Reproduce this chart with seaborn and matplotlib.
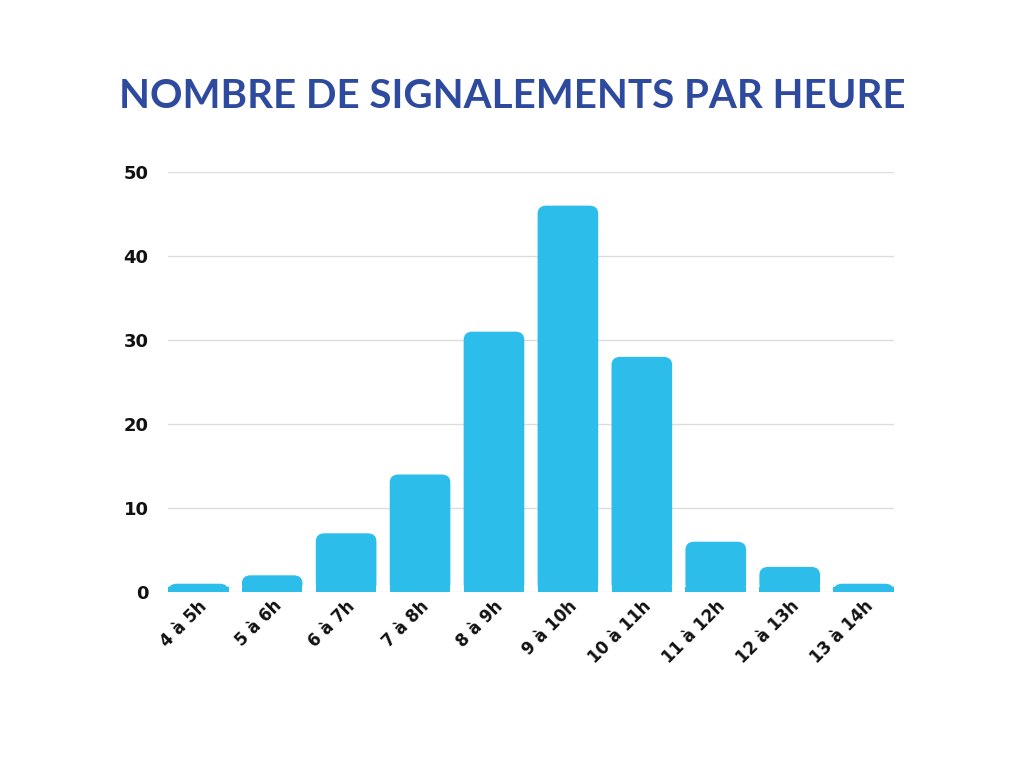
import matplotlib
matplotlib.use("Agg")
import matplotlib.pyplot as plt
import seaborn as sns
import pandas as pd
from matplotlib.patches import FancyBboxPatch

categories = ["4 à 5h", "5 à 6h", "6 à 7h", "7 à 8h", "8 à 9h",
              "9 à 10h", "10 à 11h", "11 à 12h", "12 à 13h", "13 à 14h"]
counts = [1, 2, 7, 14, 31, 46, 28, 6, 3, 1]
yticks = [0, 10, 20, 30, 40, 50]

df = pd.DataFrame({"heure": categories, "n": counts})

fig = plt.figure(figsize=(10.24, 7.68), dpi=100)
ax = fig.add_axes([0.164, 0.229, 0.709, 0.547])

sns.barplot(data=df, x="heure", y="n", color="#2DBDEA", width=0.82,
            saturation=1, ax=ax, zorder=3)

# replace bars with rounded-top versions
for p in list(ax.patches):
    x, y = p.get_x(), p.get_y()
    w, h = p.get_width(), p.get_height()
    p.set_visible(False)
    r = min(1.0, h / 2)
    fb = FancyBboxPatch((x, y), w, h, boxstyle="round,pad=0,rounding_size=0.12",
                        mutation_aspect=8, facecolor="#2DBDEA", edgecolor="none", zorder=3)
    ax.add_patch(fb)
    # square off the bottom
    ax.add_patch(plt.Rectangle((x, y), w, min(h, 0.6), facecolor="#2DBDEA",
                               edgecolor="none", zorder=3))

ax.set_xlim(-0.41, 9.41)
ax.set_ylim(0, 50)
ax.set_yticks(yticks)
ax.grid(axis="y", color="#dddddd", linewidth=1, zorder=0)
for s in ax.spines.values():
    s.set_visible(False)
ax.tick_params(length=0)
ax.set_xlabel("")
ax.set_ylabel("")
plt.setp(ax.get_yticklabels(), fontsize=13, fontweight="bold", color="#111111")
ax.tick_params(axis="y", pad=14)
plt.setp(ax.get_xticklabels(), fontsize=12, fontweight="bold", color="#111111",
         rotation=45, ha="right", rotation_mode="anchor")

fig.text(0.5, 0.875, "NOMBRE DE SIGNALEMENTS PAR HEURE", ha="center", va="center",
         fontsize=29, fontweight="bold", color="#2E4A9E", family="Lato")

fig.savefig("out.png", dpi=100)
